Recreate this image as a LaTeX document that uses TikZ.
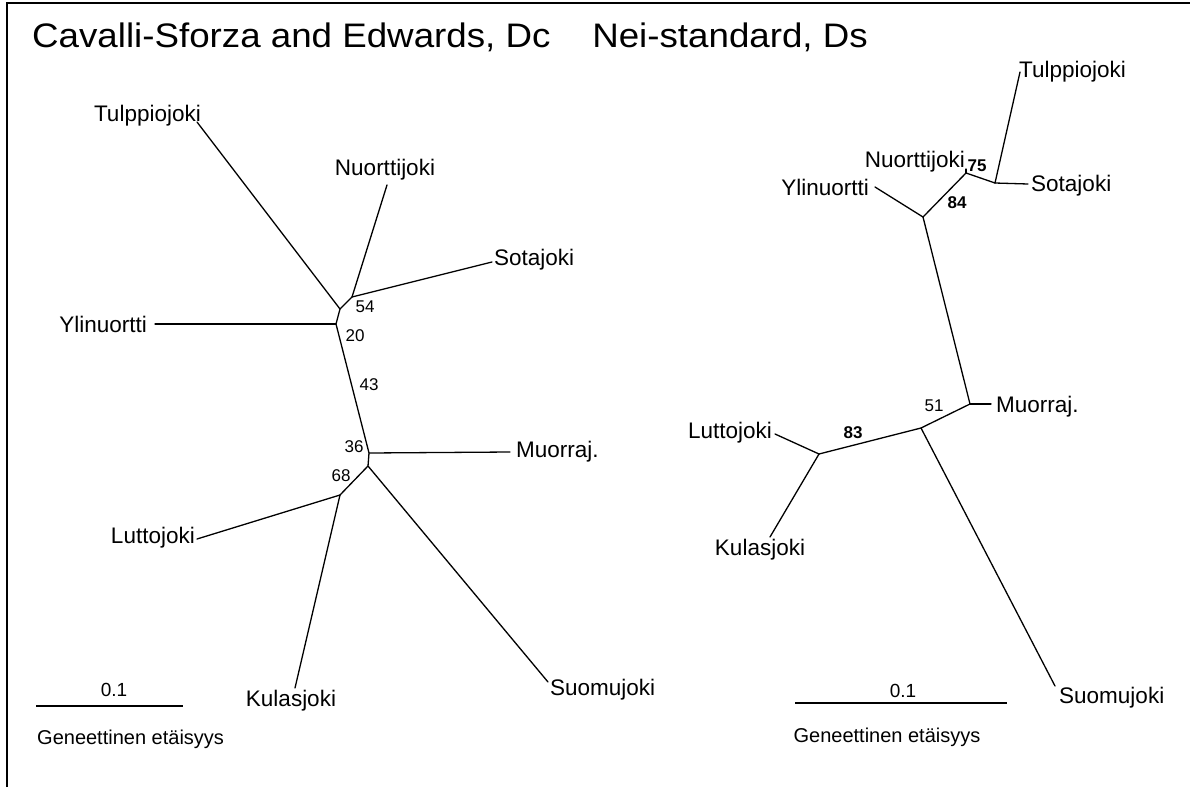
\documentclass[tikz,border=0pt]{standalone}
\usepackage{fontspec}
\setmainfont{Liberation Sans}
\usetikzlibrary{positioning}

\tikzset{
  branch/.style={line width=1.3pt, line cap=round, line join=round},
  taxon/.style={font=\fontsize{22.5}{26}\selectfont, inner sep=1pt},
  boot/.style={font=\fontsize{17}{20}\selectfont, inner sep=0pt},
  bootbold/.style={font=\fontsize{17}{20}\selectfont\bfseries, inner sep=0pt},
  title/.style={font=\fontsize{34}{40}\selectfont, inner sep=0pt},
  scaletxt/.style={font=\fontsize{20}{24}\selectfont, inner sep=0pt},
  scalebar/.style={line width=1.3pt},
}

\begin{document}
\begin{tikzpicture}[x=1pt, y=-1pt]

\useasboundingbox (0,0) rectangle (1190,787);

% ---------------------------------------------------------
% Frame and titles
% ---------------------------------------------------------
\draw[line width=1.6pt] (7,787) -- (7,3) -- (1190,3);

\node[title, anchor=base west] (tCS)  at (32,47)  {\scalebox{1.08}[1]{Cavalli-Sforza and Edwards, Dc}};
\node[title, anchor=base east] (tNei) at (868,47) {\scalebox{1.08}[1]{Nei-standard, Ds}};

% ---------------------------------------------------------
% Left tree (Dc): internal nodes
% ---------------------------------------------------------
\coordinate (cB) at (352,297);   % Nuorttijoki / Sotajoki
\coordinate (cA) at (340,309);   % Tulppiojoki
\coordinate (cC) at (336,324);   % Ylinuortti
\coordinate (cD) at (369,453);   % Muorraj.
\coordinate (cE) at (368,466);   % Suomujoki
\coordinate (cF) at (340,495);   % Luttojoki / Kulasjoki

% leaf tips
\coordinate (cTul) at (197,122);
\coordinate (cNuo) at (387,185);
\coordinate (cSot) at (492,262);
\coordinate (cYli) at (155,324);
\coordinate (cMuo) at (510,452);
\coordinate (cSuo) at (548,682);
\coordinate (cLut) at (197,539);
\coordinate (cKul) at (295,688);

% branches
\draw[branch] (cB) -- (cA) -- (cC) -- (cD) -- (cE) -- (cF);
\draw[branch] (cA) -- (cTul);
\draw[branch] (cB) -- (cNuo);
\draw[branch] (cB) -- (cSot);
\draw[branch] (cC) -- (cYli);
\draw[branch] (cD) -- (cMuo);
\draw[branch] (cE) -- (cSuo);
\draw[branch] (cF) -- (cLut);
\draw[branch] (cF) -- (cKul);

% taxa
\node[taxon, anchor=east] (lTul) at (202,116) {Tulppiojoki};
\node[taxon]              (lNuo) at (385,170) {Nuorttijoki};
\node[taxon, anchor=west] (lSot) at (493,260) {Sotajoki};
\node[taxon, anchor=east] (lYli) at (148,324) {Ylinuortti};
\node[taxon, anchor=west] (lMuo) at (515,452) {Muorraj.};
\node[taxon, anchor=east] (lLut) at (196,538) {Luttojoki};
\node[taxon]              (lKul) at (291,701) {Kulasjoki};
\node[taxon, anchor=west] (lSuo) at (549,690) {Suomujoki};

% bootstrap values
\node[boot] (b54) at (365,307) {54};
\node[boot] (b20) at (355,336) {20};
\node[boot] (b43) at (369,385) {43};
\node[boot] (b36) at (354,447) {36};
\node[boot] (b68) at (341,476) {68};

% scale
\coordinate (sL1) at (36,706);
\coordinate (sL2) at (183,706);
\draw[scalebar] (sL1) -- (sL2);
\node[scaletxt, font=\fontsize{19}{22}\selectfont] (sLv) at (114,690) {0.1};
\node[scaletxt, anchor=west] (sLt) at (37,739) {Geneettinen etäisyys};

% ---------------------------------------------------------
% Right tree (Ds): internal nodes
% ---------------------------------------------------------
\coordinate (nG) at (995,183);   % Tulppiojoki / Sotajoki
\coordinate (nH) at (966,173);   % Nuorttijoki
\coordinate (nI) at (923,217);   % Ylinuortti
\coordinate (nJ) at (970,404);   % Muorraj.
\coordinate (nK) at (921,428);   % Suomujoki
\coordinate (nL) at (819,454);   % Luttojoki / Kulasjoki

% leaf tips
\coordinate (nTul) at (1020,72);
\coordinate (nSot) at (1028,184);
\coordinate (nNuo) at (966,169);
\coordinate (nYli) at (875,187);
\coordinate (nMuo) at (991,404);
\coordinate (nSuo) at (1055,686);
\coordinate (nLut) at (775,434);
\coordinate (nKul) at (770,537);

% branches
\draw[branch] (nG) -- (nH) -- (nI) -- (nJ) -- (nK) -- (nL);
\draw[branch] (nG) -- (nTul);
\draw[branch] (nG) -- (nSot);
\draw[branch] (nH) -- (nNuo);
\draw[branch] (nI) -- (nYli);
\draw[branch] (nJ) -- (nMuo);
\draw[branch] (nK) -- (nSuo);
\draw[branch] (nL) -- (nLut);
\draw[branch] (nL) -- (nKul);

% taxa
\node[taxon, anchor=west] (rTul) at (1018,72)  {Tulppiojoki};
\node[taxon, anchor=east] (rNuo) at (966,162)  {Nuorttijoki};
\node[taxon, anchor=west] (rSot) at (1030,186) {Sotajoki};
\node[taxon, anchor=east] (rYli) at (870,187)  {Ylinuortti};
\node[taxon, anchor=west] (rMuo) at (995,407)  {Muorraj.};
\node[taxon, anchor=east] (rLut) at (773,433)  {Luttojoki};
\node[taxon]              (rKul) at (760,550)  {Kulasjoki};
\node[taxon, anchor=west] (rSuo) at (1058,698) {Suomujoki};

% bootstrap values
\node[bootbold] (b75) at (977,166) {75};
\node[bootbold] (b84) at (957,203) {84};
\node[boot]     (b51) at (934,406) {51};
\node[bootbold] (b83) at (853,433) {83};

% scale
\coordinate (sR1) at (795,703);
\coordinate (sR2) at (1007,703);
\draw[scalebar] (sR1) -- (sR2);
\node[scaletxt, font=\fontsize{19}{22}\selectfont] (sRv) at (903,691) {0.1};
\node[scaletxt] (sRt) at (887,737) {Geneettinen etäisyys};

\end{tikzpicture}
\end{document}
